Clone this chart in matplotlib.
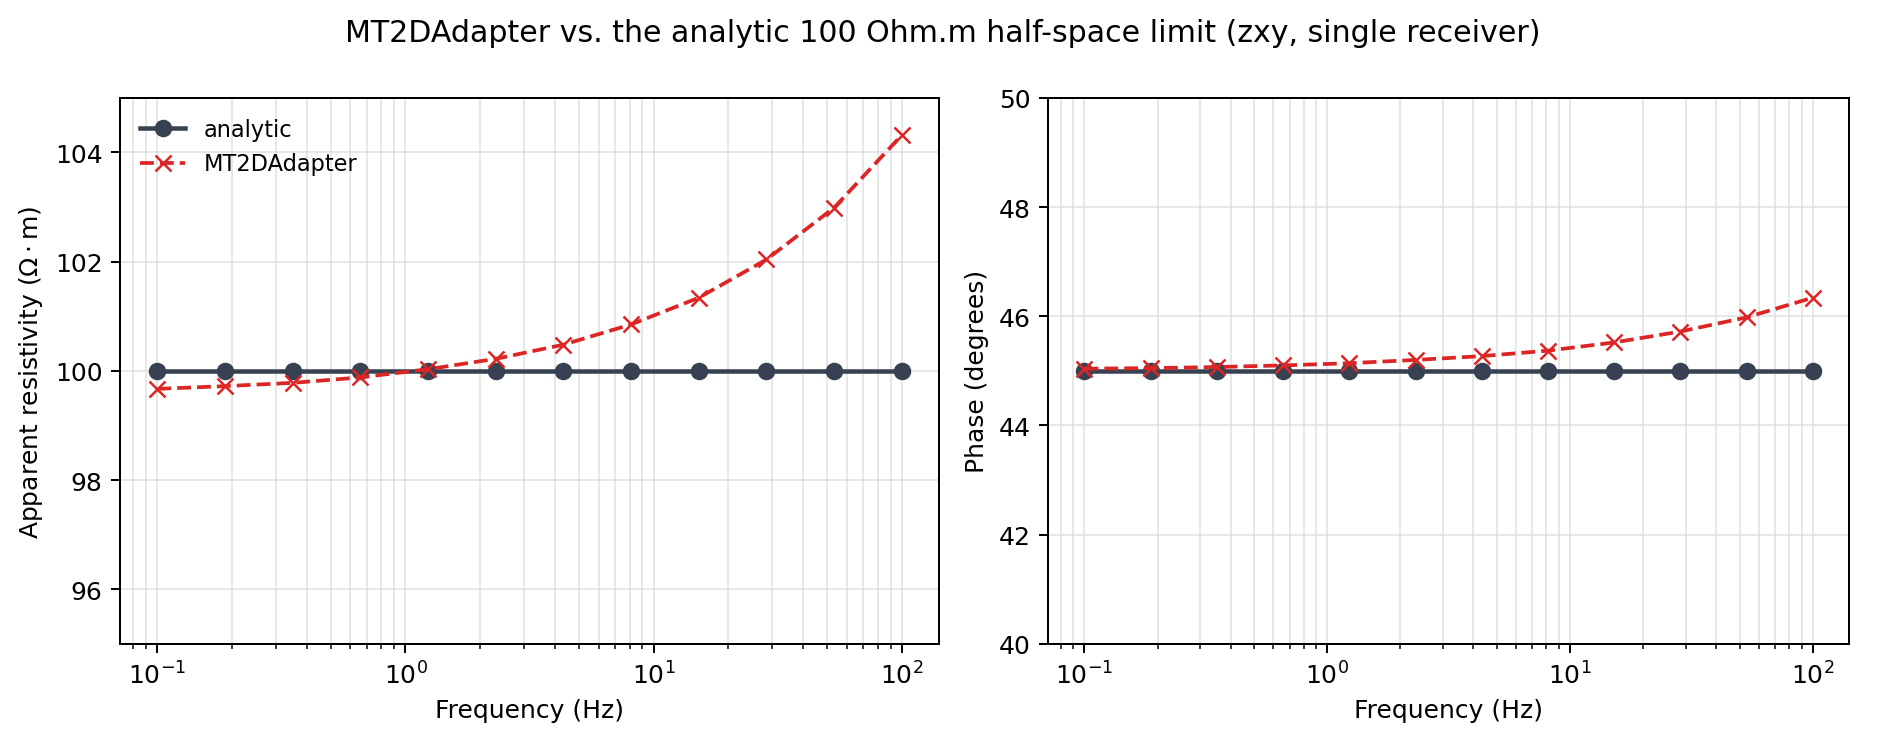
import matplotlib
matplotlib.use("Agg")
import matplotlib.pyplot as plt

freqs = [0.1, 0.1874, 0.3511, 0.6579, 1.233, 2.310, 4.329, 8.111, 15.20, 28.48, 53.37, 100.0]
rho_analytic = [100.0] * 12
rho_mt2d = [99.67, 99.72, 99.78, 99.88, 100.03, 100.22, 100.48, 100.85, 101.34, 102.04, 102.99, 104.32]
phase_analytic = [45.0] * 12
phase_mt2d = [45.04, 45.05, 45.07, 45.10, 45.14, 45.20, 45.27, 45.37, 45.52, 45.72, 45.98, 46.34]

c_an = "#374151"
c_mt = "#dc2626"

DPI = 180
fig = plt.figure(figsize=(1885 / DPI, 742 / DPI), dpi=DPI)
ax1 = fig.add_axes([0.0637, 0.131, 0.4345, 0.7357])
ax2 = fig.add_axes([0.556, 0.131, 0.425, 0.7357])

for ax, an, mt in [(ax1, rho_analytic, rho_mt2d), (ax2, phase_analytic, phase_mt2d)]:
    ax.plot(freqs, an, "-o", color=c_an, lw=1.8, ms=6, label="analytic", zorder=3)
    ax.plot(freqs, mt, "--x", color=c_mt, lw=1.5, ms=6.5, label="MT2DAdapter", zorder=4)
    ax.set_xscale("log")
    ax.grid(True, which="both", color="#d9d9d9", alpha=0.7, lw=0.7)
    ax.set_xlabel("Frequency (Hz)")

ax1.set_ylim(95, 105)
ax2.set_ylim(40, 50)
ax1.set_ylabel(r"Apparent resistivity ($\Omega\cdot$m)")
ax2.set_ylabel("Phase (degrees)")
ax1.legend(loc="upper left", frameon=False, fontsize=9)

fig.suptitle("MT2DAdapter vs. the analytic 100 Ohm.m half-space limit (zxy, single receiver)",
             fontsize=12, y=0.975)

fig.savefig("out.png", dpi=DPI)
